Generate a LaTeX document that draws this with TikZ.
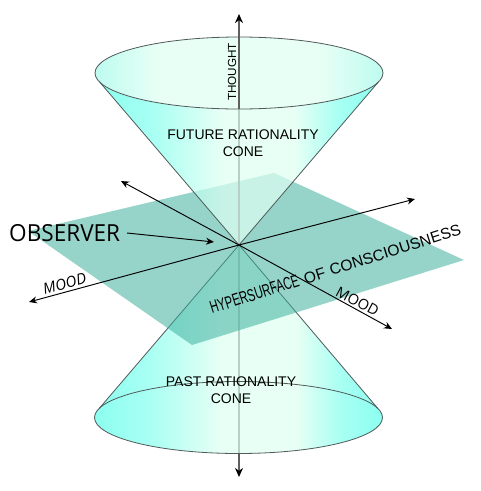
\documentclass[tikz,border=0pt]{standalone}
\usepackage{fontspec}
\setmainfont{Liberation Sans}
\newfontfamily\obsfont{Open Sans}
\newfontfamily\obscond[FakeStretch=.96]{Open Sans}
\newfontfamily\condfont[FakeStretch=.648]{Liberation Sans}
\usetikzlibrary{arrows.meta}
\definecolor{planecol}{RGB}{54,173,155}
\definecolor{cyanA}{RGB}{91,255,234}
\definecolor{cyanB}{RGB}{130,255,238}
\definecolor{cyanC}{RGB}{90,255,234}
\definecolor{paleA}{RGB}{222,255,241}
\definecolor{rimA}{RGB}{190,251,240}
\definecolor{rimB}{RGB}{232,255,245}
\definecolor{edgecol}{RGB}{80,90,90}
\definecolor{axiscol}{RGB}{95,95,95}
\pgfdeclarehorizontalshading{conebody}{100bp}{
  color(0bp)=(cyanA); color(25bp)=(cyanA); color(34bp)=(cyanB); color(47bp)=(paleA);
  color(60bp)=(paleA); color(68bp)=(cyanB); color(75bp)=(cyanC); color(100bp)=(cyanC)}
\pgfdeclarehorizontalshading{conerim}{100bp}{
  color(0bp)=(rimA); color(25bp)=(rimA); color(36bp)=(rimB);
  color(64bp)=(rimB); color(75bp)=(rimA); color(100bp)=(rimA)}
\tikzset{
  plane/.style={fill=planecol,fill opacity=.52},
  conefill/.style={shading=conebody,fill opacity=.7},
  rimline/.style={draw=edgecol,line width=.8pt},
  axisline/.style={draw=axiscol,line width=1.5pt},
  axistip/.style={-{Stealth[length=9pt,width=8pt,black]}},
  thinarrow/.style={draw=black,line width=.95pt,-{Stealth[length=8pt,width=7pt]}},
  lab/.style={inner sep=0pt,text=black},
}
\begin{document}
\begin{tikzpicture}[x=1pt,y=-1pt]
\useasboundingbox (0,0) rectangle (481,491);
\fill[white] (0,0) rectangle (481,491);
\coordinate (apex) at (239,245);
\coordinate (axistop) at (239,14);
\coordinate (axisbot) at (239,477);
\coordinate (rimtop) at (239,109);
\coordinate (rimbot) at (239,453);
\coordinate (tl) at (99.9,82.3);
\coordinate (tr) at (378.1,82.3);
\coordinate (bl) at (99.4,408.2);
\coordinate (br) at (377.6,408.2);
\coordinate (ul) at (121,181);
\coordinate (dr) at (392,329);
\coordinate (ur) at (415,199);
\coordinate (dl) at (29,302);
\coordinate (obsa) at (127,233);
\coordinate (obsb) at (214,242);
% lower axis and lower cone
\draw[axisline,axistip] (apex) -- (axisbot);
\path[conefill] (apex) -- plot[domain=-15:195,samples=70] ({238.5+144*cos(\x)},{417.5+36*sin(\x)}) -- cycle;
\draw[rimline] (238.5,417.5) ellipse [x radius=144,y radius=36];
\draw[rimline] (apex) -- (bl) (apex) -- (br);
% plane
\path[plane] (274,173) -- (464,260) -- (192,345) -- (28,231) -- cycle;
% upper axis and upper cone
\draw[axisline] (apex) -- (rimtop);
\path[conefill] (apex) -- plot[domain=15:165,samples=60] ({239+144*cos(\x)},{73+36*sin(\x)}) -- cycle;
\shade[shading=conerim] (239,73) ellipse [x radius=144,y radius=36];
\draw[rimline] (239,73) ellipse [x radius=144,y radius=36];
\draw[rimline] (apex) -- (tl) (apex) -- (tr);
\draw[axisline,axistip] (rimtop) -- (axistop);
% arrows
\draw[thinarrow] (apex) -- (ul);
\draw[thinarrow] (apex) -- (dr);
\draw[thinarrow] (apex) -- (ur);
\draw[thinarrow] (apex) -- (dl);
\draw[thinarrow] (obsa) -- (obsb);
% labels
\node[lab,anchor=base,rotate=90,font=\fontsize{11.7}{14}\selectfont] (thought) at (236,72) {THOUGHT};
\node[lab,align=center,font=\fontsize{14}{17}\selectfont] (future) at (243,143) {FUTURE RATIONALITY\\CONE};
\node[lab,align=center,font=\fontsize{14}{17}\selectfont] (past) at (231,390) {PAST RATIONALITY\\CONE};
\node[lab,anchor=base west,font=\obscond\fontsize{23.5}{28}\selectfont] (observer) at (9,241) {OBSERVER};
\node[lab,anchor=base,rotate=15,font=\obsfont\itshape\fontsize{15}{17}\selectfont] (moodl) at (66,289) {MOOD};
\node[lab,anchor=base,rotate=-28,font=\obsfont\fontsize{14.5}{17}\selectfont] (moodr) at (355,306) {MOOD};
\node[lab,anchor=base west,rotate=17.7,font=\fontsize{15.6}{18}\selectfont] (hyper) at (212,314) {{\condfont\fontsize{17.5}{18}\selectfont HYPERSURFACE}\hspace{1.5pt} OF\hspace{1pt} CONSCIOUSNESS};
\end{tikzpicture}
\end{document}
